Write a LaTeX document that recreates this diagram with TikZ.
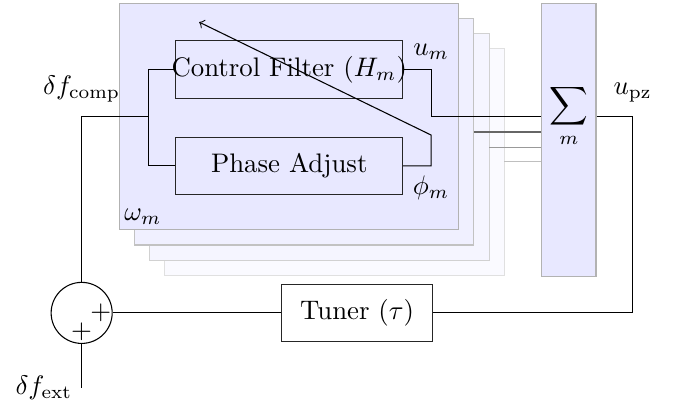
\documentclass[tikz,border=0pt]{standalone}
\usepackage{xcolor}
\usepackage{tikz}
\usetikzlibrary{arrows, positioning}
\usepackage{amsmath}
\usepackage{amssymb}

\begin{document}
\begin{tikzpicture}[
    node distance=0.5cm,
    panel/.style={draw=black!30, fill=blue!9},
    block/.style={draw=black!85, minimum width=2.97cm, minimum height=0.75cm, inner sep=0pt, align=center},
    adderc/.style={draw, circle, minimum size=0.8cm, inner sep=0pt}
]
    \useasboundingbox (0,0) rectangle (8.95,-5.36);

    % Stacked modes (back to front)
    \draw[draw=black!12, fill=blue!2] (2.16,-0.64) rectangle (6.61,-3.61);
    \draw[draw=black!18, fill=blue!4] (1.96,-0.44) rectangle (6.41,-3.41);
    \draw[draw=black!24, fill=blue!6] (1.76,-0.24) rectangle (6.21,-3.21);
    \node[panel, minimum width=4.45cm, minimum height=2.97cm, inner sep=0pt] (mode) at (3.785,-1.525) {};
    \node[anchor=south west, inner sep=2pt] (omega) at (mode.south west) {$\omega_m$};

    % Summation
    \node[panel, minimum width=0.71cm, minimum height=3.58cm, inner sep=0pt] (sumbox) at (7.455,-1.83) {};
    \node (sum) at (7.455,-1.52) {$\displaystyle\sum_m$};

    % Blocks
    \node[block] (cf) at (3.79,-0.91) {\makebox[0pt]{Control Filter ($H_m$)}};
    \node[block, below=of cf] (pa) {Phase Adjust};
    \node[block, minimum width=1.98cm] (tuner) at (4.68,-4.10) {Tuner ($\tau$)};
    \node[adderc] (adder) at (1.07,-4.10) {};
    \node (plusr) at ([xshift=0.25cm]adder.center) {$+$};
    \node (plusb) at ([yshift=-0.25cm]adder.center) {$+$};

    % Helper points
    \coordinate (split) at (1.94,-1.53);
    \coordinate (merge) at (5.65,-1.53);
    \coordinate (tilt) at (5.65,-1.77);
    \coordinate (tip) at (2.61,-0.29);
    \coordinate (turn) at (8.29,0);
    \coordinate (ext) at (1.07,-5.08);

    % Signal flow
    \draw (adder.north) |- node[pos=0.5, above=2pt] {$\delta f_{\mathrm{comp}}$} (split);
    \draw (cf.west) -| (split) |- (pa.west);
    \draw (cf.east) -| node[pos=0.5, above] {$u_m$} (merge) -- (merge -| sumbox.west);
    \draw[->] (pa.east) -| node[pos=0.5, below] {$\phi_m$} (tilt) -- (tip);
    \draw[black!60] (6.21,-1.73) -- (6.21,-1.73 -| sumbox.west);
    \draw[black!40] (6.41,-1.93) -- (6.41,-1.93 -| sumbox.west);
    \draw[black!25] (6.61,-2.12) -- (6.61,-2.12 -| sumbox.west);
    \draw (sumbox.east |- merge) -| node[pos=0.5, above=2pt] {$u_{\mathrm{pz}}$} (turn |- tuner.east) -- (tuner.east);
    \draw (tuner.west) -- (adder.east);
    \draw (adder.south) -- (ext) node[left] {$\delta f_{\mathrm{ext}}$};

\end{tikzpicture}
\end{document}
